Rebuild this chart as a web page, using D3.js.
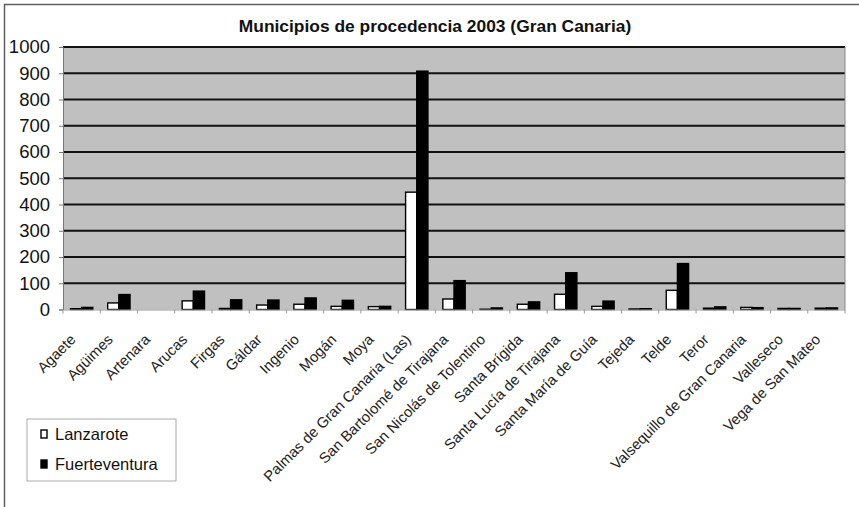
<!DOCTYPE html>
<html>
<head>
<meta charset="utf-8">
<script src="https://cdn.jsdelivr.net/npm/d3@7"></script>
<style>
  body { margin: 0; background: #fff; }
  text { font-family: Arial, "Liberation Sans", sans-serif; }
</style>
</head>
<body>
<div id="chart-area"></div>
<script>
// data
var municipios = ["Agaete", "Agüimes", "Artenara", "Arucas", "Firgas", "Gáldar", "Ingenio",
  "Mogán", "Moya", "Palmas de Gran Canaria (Las)", "San Bartolomé de Tirajana",
  "San Nicolás de Tolentino", "Santa Brígida", "Santa Lucía de Tirajana",
  "Santa María de Guía", "Tejeda", "Telde", "Teror", "Valsequillo de Gran Canaria",
  "Valleseco", "Vega de San Mateo"];
var lanzarote = [3, 25, 0, 33, 4, 17, 20, 12, 11, 447, 40, 1, 20, 58, 12, 2, 73, 5, 8, 4, 5];
var fuerteventura = [8, 57, 0, 70, 37, 36, 44, 35, 12, 908, 110, 6, 29, 140, 32, 3, 175, 10, 7, 4, 6];
var series = ["Lanzarote", "Fuerteventura"];
var colors = ["#ffffff", "#000000"];
var yTicks = [0, 100, 200, 300, 400, 500, 600, 700, 800, 900, 1000];

var W = 859, H = 507;
var margin = {top: 47, right: 14, bottom: 198, left: 63};
var width = W - margin.left - margin.right;
var height = H - margin.top - margin.bottom + 0.5;

var svg = d3.select("#chart-area")
  .append("svg")
  .attr("width", W)
  .attr("height", H);

// outer frame (only top and left visible)
svg.append("path")
  .attr("d", "M4.5," + H + "V4.5H" + W)
  .attr("fill", "none")
  .attr("stroke", "#606060")
  .attr("stroke-width", 1.5);

svg.append("text")
  .attr("x", 435)
  .attr("y", 32)
  .attr("text-anchor", "middle")
  .attr("font-size", "17.4px")
  .attr("font-weight", "bold")
  .attr("fill", "#111")
  .text("Municipios de procedencia 2003 (Gran Canaria)");

var g = svg.append("g")
  .attr("transform", "translate(" + margin.left + ", " + margin.top + ")");

var x = d3.scaleBand()
  .domain(municipios)
  .range([0, width])
  .padding(0);

var x1 = d3.scaleBand()
  .domain(series)
  .range([x.bandwidth() * 0.2, x.bandwidth() * 0.8])
  .padding(0);

var y = d3.scaleLinear()
  .domain([0, 1000])
  .range([height, 0]);

// plot area
g.append("rect")
  .attr("width", width)
  .attr("height", height)
  .attr("fill", "#c0c0c0");

g.selectAll(".grid")
  .data(yTicks.slice(1))
  .enter()
  .append("line")
  .attr("class", "grid")
  .attr("x1", 0)
  .attr("x2", width)
  .attr("y1", (d) => { return y(d); })
  .attr("y2", (d) => { return y(d); })
  .attr("stroke", "#111")
  .attr("stroke-width", 1.8);

g.append("line")
  .attr("x1", width).attr("x2", width)
  .attr("y1", 0).attr("y2", height)
  .attr("stroke", "#888")
  .attr("stroke-width", 1);

// bars
var rows = municipios.map((m, i) => {
  return {name: m, values: [lanzarote[i], fuerteventura[i]]};
});

var groups = g.selectAll(".grp")
  .data(rows)
  .enter()
  .append("g")
  .attr("class", "grp")
  .attr("transform", (d) => { return "translate(" + x(d.name) + ",0)"; });

groups.selectAll("rect")
  .data((d) => { return d.values.map((v, j) => { return {key: series[j], v: v, c: colors[j]}; }); })
  .enter()
  .append("rect")
  .filter((d) => { return d.v > 0; })
  .attr("x", (d) => { return x1(d.key); })
  .attr("y", (d) => { return y(d.v); })
  .attr("width", x1.bandwidth())
  .attr("height", (d) => { return height - y(d.v); })
  .attr("fill", (d) => { return d.c; })
  .attr("stroke", "#000")
  .attr("stroke-width", 1.4);

// axes
var leftAxis = d3.axisLeft(y).tickValues(yTicks).tickFormat(d3.format("d")).tickSize(4).tickPadding(9);
var ya = g.append("g")
  .attr("class", "y axis")
  .call(leftAxis);
ya.select(".domain").attr("stroke", "#777");
ya.selectAll(".tick line").attr("stroke", "#777");
ya.selectAll("text")
  .attr("font-size", "18.5px")
  .attr("fill", "#111");

var bottomAxis = d3.axisBottom(x).tickSize(0).tickPadding(0);
var xa = g.append("g")
  .attr("class", "x axis")
  .attr("transform", "translate(0, " + height + ")")
  .call(bottomAxis);
xa.select(".domain").attr("stroke", "#999");
xa.selectAll("text")
  .attr("font-size", "14.8px")
  .attr("fill", "#222")
  .attr("text-anchor", "end")
  .attr("dy", 0)
  .attr("transform", "translate(-5, 31) rotate(-45)");

// boundary ticks between categories
xa.selectAll(".bt")
  .data(municipios.concat(["end"]))
  .enter()
  .append("line")
  .attr("class", "bt")
  .attr("x1", (d, i) => { return i * x.step(); })
  .attr("x2", (d, i) => { return i * x.step(); })
  .attr("y1", 0)
  .attr("y2", 4)
  .attr("stroke", "#999");

// legend
var legend = svg.append("g").attr("transform", "translate(27, 419)");
legend.append("rect")
  .attr("width", 149)
  .attr("height", 62)
  .attr("fill", "#fff")
  .attr("stroke", "#aaa");

var items = legend.selectAll(".item")
  .data(series)
  .enter()
  .append("g")
  .attr("class", "item")
  .attr("transform", (d, i) => { return "translate(14, " + (11 + i * 30) + ")"; });

items.append("rect")
  .attr("width", 6)
  .attr("height", 8)
  .attr("fill", (d, i) => { return colors[i]; })
  .attr("stroke", "#000")
  .attr("stroke-width", 1.4);

items.append("text")
  .attr("x", 14)
  .attr("y", 9.5)
  .attr("font-size", "16.5px")
  .attr("fill", "#111")
  .text((d) => { return d; });
</script>
</body>
</html>
